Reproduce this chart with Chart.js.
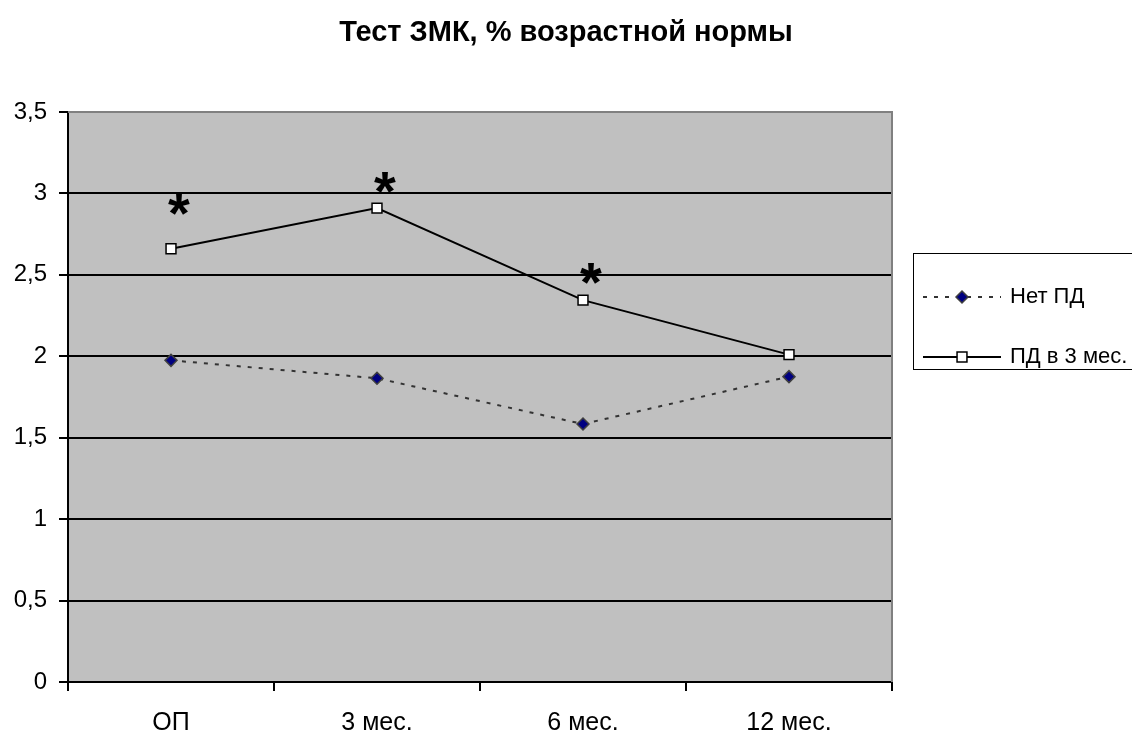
<!DOCTYPE html>
<html>
<head>
<meta charset="utf-8">
<script src="https://cdn.jsdelivr.net/npm/chart.js@4/dist/chart.umd.min.js"></script>
<style>
  html, body { margin: 0; padding: 0; background: #fff; }
  #wrap { width: 1132px; height: 734px; position: relative; }
</style>
</head>
<body>
<div id="wrap"><canvas id="c"></canvas></div>
<script>
// Test values, % of the age norm
const categories = ['ОП', '3 мес.', '6 мес.', '12 мес.'];
const noPD = [1.975, 1.865, 1.584, 1.875];
const pd3 = [2.66, 2.91, 2.345, 2.01];
const yTicks = [0, 0.5, 1, 1.5, 2, 2.5, 3, 3.5];
// levels of the significance asterisks above the "ПД в 3 мес." series
const starLevels = [2.93, 3.07, 2.51, null];
const seriesNames = ['Нет ПД', 'ПД в 3 мес.'];
const titleText = 'Тест ЗМК, % возрастной нормы';

const FONT = '"Liberation Sans", Arial, sans-serif';

const plotBackground = {
  id: 'plotBackground',
  beforeDraw(chart) {
    const { ctx, chartArea: a } = chart;
    ctx.save();
    ctx.fillStyle = '#C0C0C0';
    ctx.fillRect(a.left, a.top, a.right - a.left, a.bottom - a.top);
    ctx.restore();
  },
  beforeDatasetsDraw(chart) {
    // grey frame on the top and right sides of the plot
    const { ctx, chartArea: a } = chart;
    ctx.save();
    ctx.strokeStyle = '#808080';
    ctx.lineWidth = 2;
    ctx.beginPath();
    ctx.moveTo(a.left, a.top);
    ctx.lineTo(a.right, a.top);
    ctx.lineTo(a.right, a.bottom);
    ctx.stroke();
    ctx.restore();
  }
};

const stars = {
  id: 'stars',
  afterDatasetsDraw(chart) {
    const { ctx } = chart;
    const xs = chart.scales.x, ys = chart.scales.y;
    ctx.save();
    ctx.fillStyle = '#000';
    ctx.font = 'bold 56px ' + FONT;
    ctx.textAlign = 'center';
    ctx.textBaseline = 'alphabetic';
    const m = ctx.measureText('*');
    const mid = (m.actualBoundingBoxAscent - m.actualBoundingBoxDescent) / 2;
    starLevels.forEach((v, i) => {
      if (v === null) return;
      const x = xs.getPixelForValue(i) + 8;
      const y = ys.getPixelForValue(v);
      ctx.fillText('*', x, y + mid);
    });
    ctx.restore();
  }
};

const titleAndLegend = {
  id: 'titleAndLegend',
  afterDraw(chart) {
    const { ctx } = chart;
    ctx.save();
    ctx.fillStyle = '#000';
    ctx.font = 'bold 29px ' + FONT;
    ctx.textAlign = 'center';
    ctx.textBaseline = 'middle';
    ctx.fillText(titleText, 566, 33);

    // legend box
    ctx.strokeStyle = '#000';
    ctx.lineWidth = 1;
    ctx.strokeRect(913.5, 253.5, 260, 116);

    const rows = [297, 357];
    chart.data.datasets.forEach((ds, i) => {
      const y = rows[i];
      ctx.save();
      ctx.strokeStyle = ds.borderColor;
      ctx.lineWidth = ds.borderWidth;
      ctx.setLineDash(ds.borderDash || []);
      ctx.beginPath();
      ctx.moveTo(923, y);
      ctx.lineTo(1001, y);
      ctx.stroke();
      ctx.setLineDash([]);
      ctx.fillStyle = ds.pointBackgroundColor;
      ctx.strokeStyle = ds.pointBorderColor;
      ctx.lineWidth = ds.pointBorderWidth;
      Chart.helpers.drawPoint(ctx, {
        pointStyle: ds.pointStyle,
        radius: ds.pointRadius,
        rotation: 0,
        borderWidth: ds.pointBorderWidth
      }, 962, y);
      ctx.restore();
      ctx.fillStyle = '#000';
      ctx.font = '22px ' + FONT;
      ctx.textAlign = 'left';
      ctx.fillText(ds.label, 1010, y);
    });
    ctx.restore();
  }
};

new Chart(document.getElementById('c'), {
  type: 'line',
  data: {
    labels: categories,
    datasets: [
      {
        label: seriesNames[0],
        data: noPD,
        borderColor: '#333333',
        borderWidth: 2,
        borderDash: [4, 7],
        pointStyle: 'rectRot',
        pointRadius: 6,
        pointHoverRadius: 6,
        pointBackgroundColor: '#000080',
        pointBorderColor: '#404040',
        pointBorderWidth: 1.5,
        tension: 0
      },
      {
        label: seriesNames[1],
        data: pd3,
        borderColor: '#000000',
        borderWidth: 2,
        pointStyle: 'rect',
        pointRadius: 7,
        pointHoverRadius: 7,
        pointBackgroundColor: '#FFFFFF',
        pointBorderColor: '#000000',
        pointBorderWidth: 1.5,
        tension: 0
      }
    ]
  },
  options: {
    responsive: true,
    maintainAspectRatio: false,
    animation: false,
    layout: { padding: { top: 112, right: 240, bottom: 0, left: 0 } },
    plugins: {
      legend: { display: false },
      title: { display: false },
      tooltip: { enabled: false }
    },
    scales: {
      x: {
        type: 'category',
        offset: true,
        afterFit(scale) { scale.height = 52; },
        grid: {
          offset: true,
          drawOnChartArea: false,
          color: '#000',
          lineWidth: 2,
          tickLength: 9
        },
        border: { display: true, color: '#000', width: 2 },
        ticks: {
          color: '#000',
          font: { family: FONT, size: 25 },
          padding: 17,
          maxRotation: 0
        }
      },
      y: {
        min: 0,
        max: 3.5,
        afterFit(scale) { scale.width = 68; },
        afterBuildTicks(scale) { scale.ticks = yTicks.map(v => ({ value: v })); },
        grid: {
          color: (c) => (c.tick && c.tick.value === 3.5) ? 'rgba(0,0,0,0)' : '#000',
          tickColor: '#000',
          lineWidth: 2,
          tickLength: 9
        },
        border: { display: true, color: '#000', width: 2 },
        ticks: {
          color: '#000',
          font: { family: FONT, size: 24 },
          padding: 12,
          callback: (v) => String(v).replace('.', ',')
        }
      }
    }
  },
  plugins: [plotBackground, stars, titleAndLegend]
});
</script>
</body>
</html>
